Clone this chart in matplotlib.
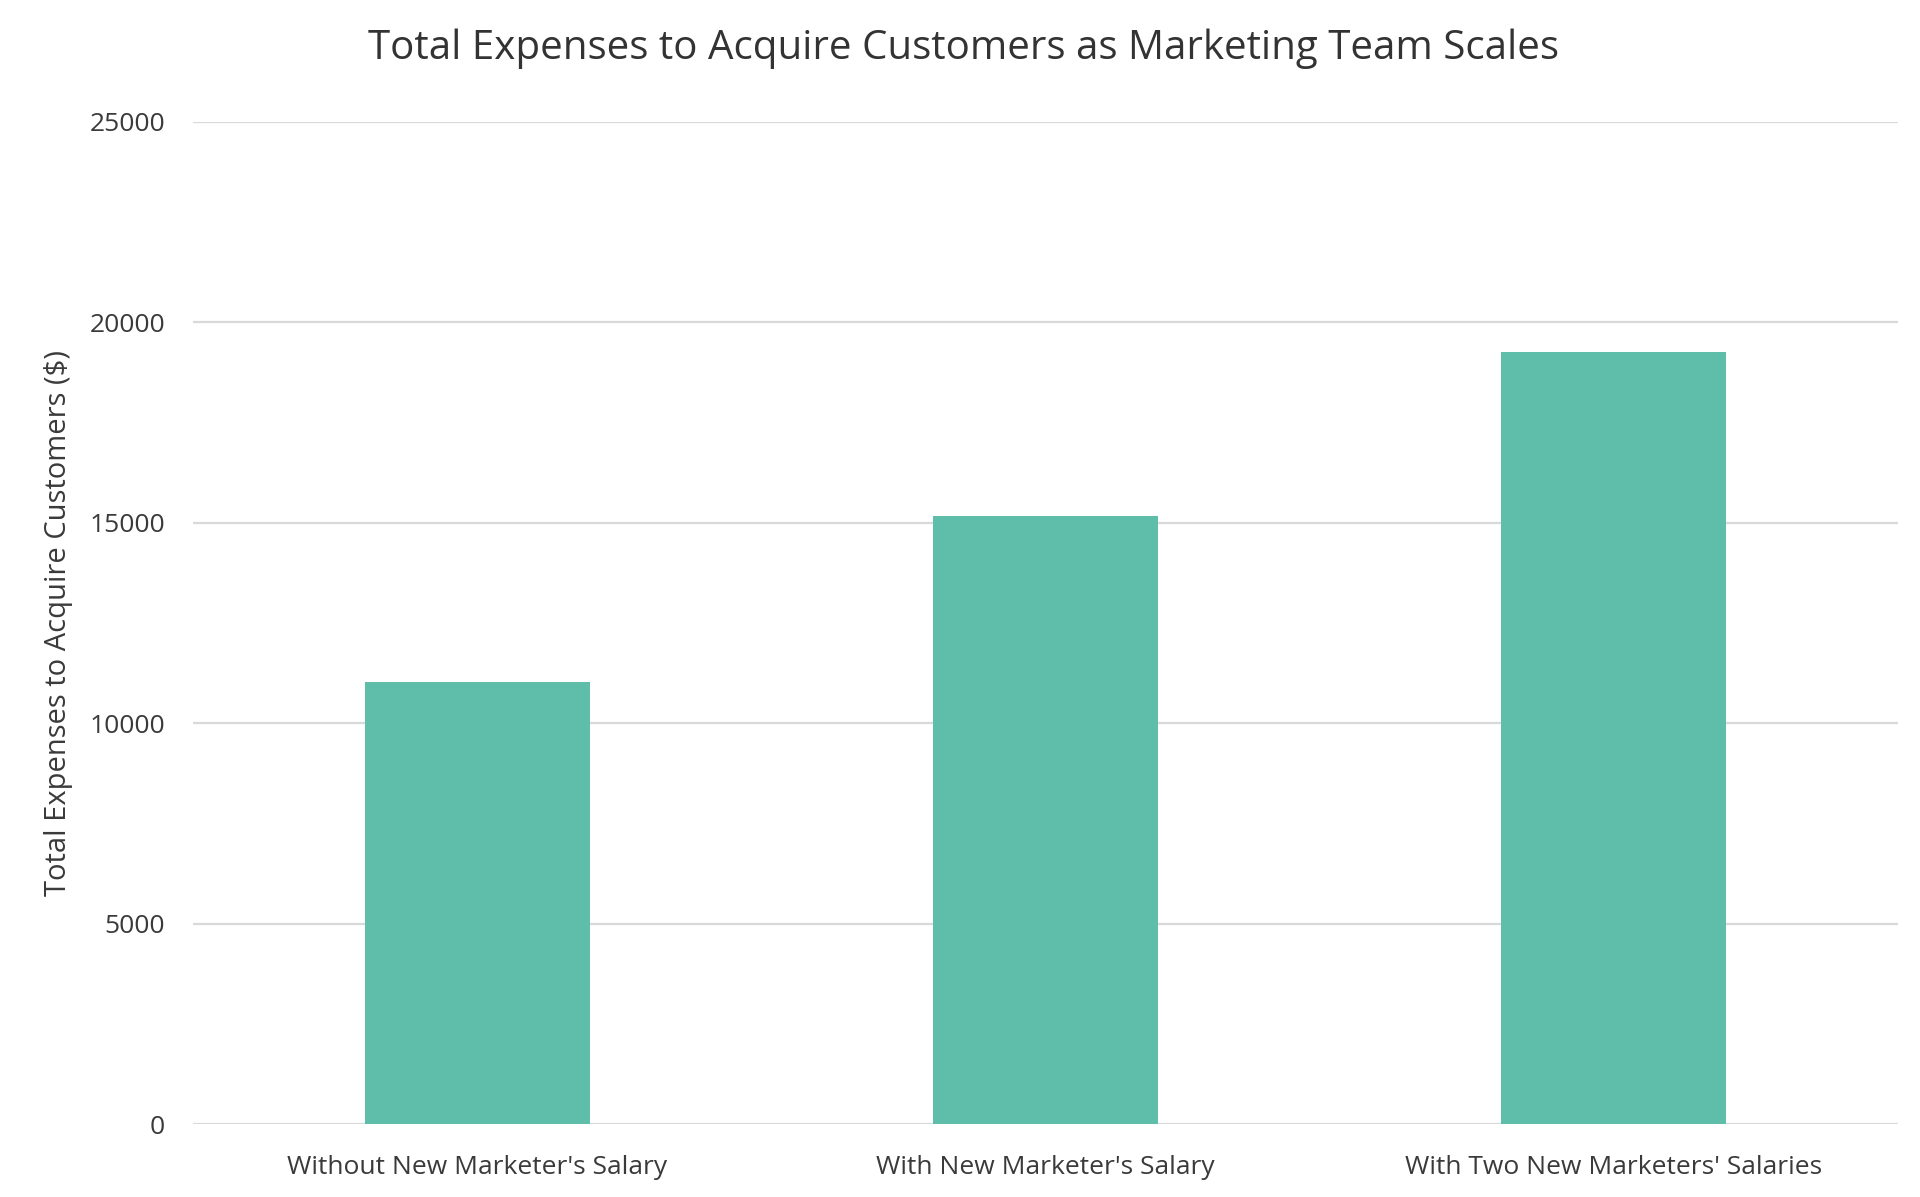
import matplotlib
matplotlib.use("Agg")
import matplotlib.pyplot as plt

categories = ["Without New Marketer's Salary", "With New Marketer's Salary", "With Two New Marketers' Salaries"]
values = [11020, 15170, 19260]
yticks = [0, 5000, 10000, 15000, 20000, 25000]
title = "Total Expenses to Acquire Customers as Marketing Team Scales"
ylabel = "Total Expenses to Acquire Customers ($)"

plt.rcParams['font.family'] = ['Open Sans', 'DejaVu Sans']

fig = plt.figure(figsize=(19.2, 11.97), dpi=100)
ax = fig.add_axes([0.1005, 0.0606, 0.888, 0.8377])

x = list(range(len(categories)))
ax.bar(x, values, width=0.396, color='#5fbeaa', zorder=3)
ax.set_xlim(-0.5, len(categories) - 0.5)
ax.set_ylim(0, 25000)
ax.set_yticks(yticks)
ax.set_yticklabels([str(v) for v in yticks])
ax.set_xticks(x)
ax.set_xticklabels(categories)
ax.yaxis.grid(True, color='#d9d9d9', linewidth=1.6, zorder=0)
ax.set_axisbelow(True)
for s in ax.spines.values():
    s.set_visible(False)
ax.tick_params(axis='both', length=0, labelsize=19, colors='#3a3a3a')
ax.tick_params(axis='y', pad=20)
ax.tick_params(axis='x', pad=22)
ax.set_ylabel(ylabel, fontsize=21, color='#3a3a3a', labelpad=12)
fig.text(0.502, 0.959, title, ha='center', va='center', fontsize=29, color='#333333')

fig.savefig("out.png", dpi=100, facecolor='white')
